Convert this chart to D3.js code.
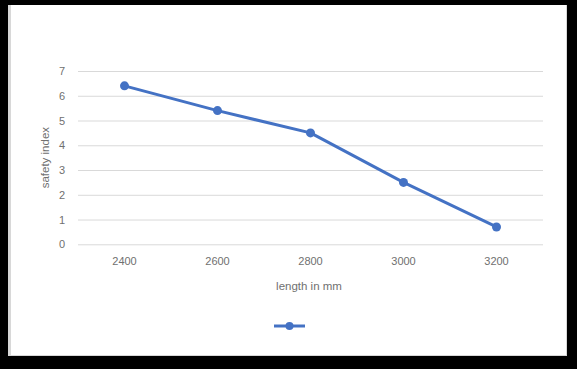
<!DOCTYPE html>
<html><head><meta charset="utf-8">
<script src="https://cdn.jsdelivr.net/npm/d3@7"></script>
<style>
html,body{margin:0;padding:0;background:#000;}
svg{display:block;}
text{font-family:"Liberation Sans","DejaVu Sans",sans-serif;fill:#707070;}
</style></head>
<body>
<script>
const categories = ["2400","2600","2800","3000","3200"];
const values = [6.4, 5.4, 4.5, 2.5, 0.7];
const yTicks = [0,1,2,3,4,5,6,7];
const xTitle = "length in mm";
const yTitle = "safety index";

const W = 577, H = 369;
const svg = d3.select("body").append("svg").attr("width", W).attr("height", H);
svg.append("rect").attr("width", W).attr("height", H).attr("fill", "#000");
svg.append("rect").attr("x", 8).attr("y", 5).attr("width", 559).attr("height", 351).attr("fill", "#d8d8d8");
svg.append("rect").attr("x", 11).attr("y", 5).attr("width", 555).attr("height", 350).attr("fill", "#fff");

const plot = {left: 78, right: 543, top: 71, bottom: 244.3};
const x = d3.scaleBand().domain(categories).range([plot.left, plot.right]);
const y = d3.scaleLinear().domain([0, 7]).range([plot.bottom, plot.top]);

const yAxis = d3.axisLeft(y).tickValues(yTicks).tickSize(-(plot.right - plot.left)).tickPadding(13).tickFormat(d3.format("d"));
const gy = svg.append("g").attr("transform", `translate(${plot.left},0)`).call(yAxis);
gy.select(".domain").remove();
gy.selectAll(".tick line").attr("stroke", "#d9d9d9").attr("stroke-width", 1);
gy.selectAll(".tick text").attr("font-size", 11).attr("fill", "#707070");

const xAxis = d3.axisBottom(x).tickSize(0).tickPadding(13);
const gx = svg.append("g").attr("transform", `translate(0,${plot.bottom})`).call(xAxis);
gx.select(".domain").remove();
gx.selectAll(".tick text").attr("font-size", 11).attr("fill", "#707070");

svg.append("text").attr("x", 309).attr("y", 290).attr("text-anchor", "middle").attr("font-size", 11.5).text(xTitle);
svg.append("text").attr("transform", `translate(49,${(plot.top+plot.bottom)/2}) rotate(-90)`).attr("text-anchor", "middle").attr("font-size", 11.5).text(yTitle);

const color = "#4472C4";
const line = d3.line().x((d, i) => x(categories[i]) + x.bandwidth()/2).y(d => y(d));
svg.append("path").datum(values).attr("d", line).attr("fill", "none").attr("stroke", color).attr("stroke-width", 3).attr("stroke-linejoin", "round");
svg.selectAll("circle.pt").data(values).enter().append("circle").attr("class", "pt")
  .attr("cx", (d, i) => x(categories[i]) + x.bandwidth()/2).attr("cy", d => y(d)).attr("r", 4.5).attr("fill", color);

const lg = svg.append("g").attr("transform", "translate(274,326)");
lg.append("line").attr("x1", 0).attr("x2", 31).attr("y1", 0).attr("y2", 0).attr("stroke", color).attr("stroke-width", 3);
lg.append("circle").attr("cx", 15.5).attr("cy", 0).attr("r", 4).attr("fill", color);
</script>
</body></html>
